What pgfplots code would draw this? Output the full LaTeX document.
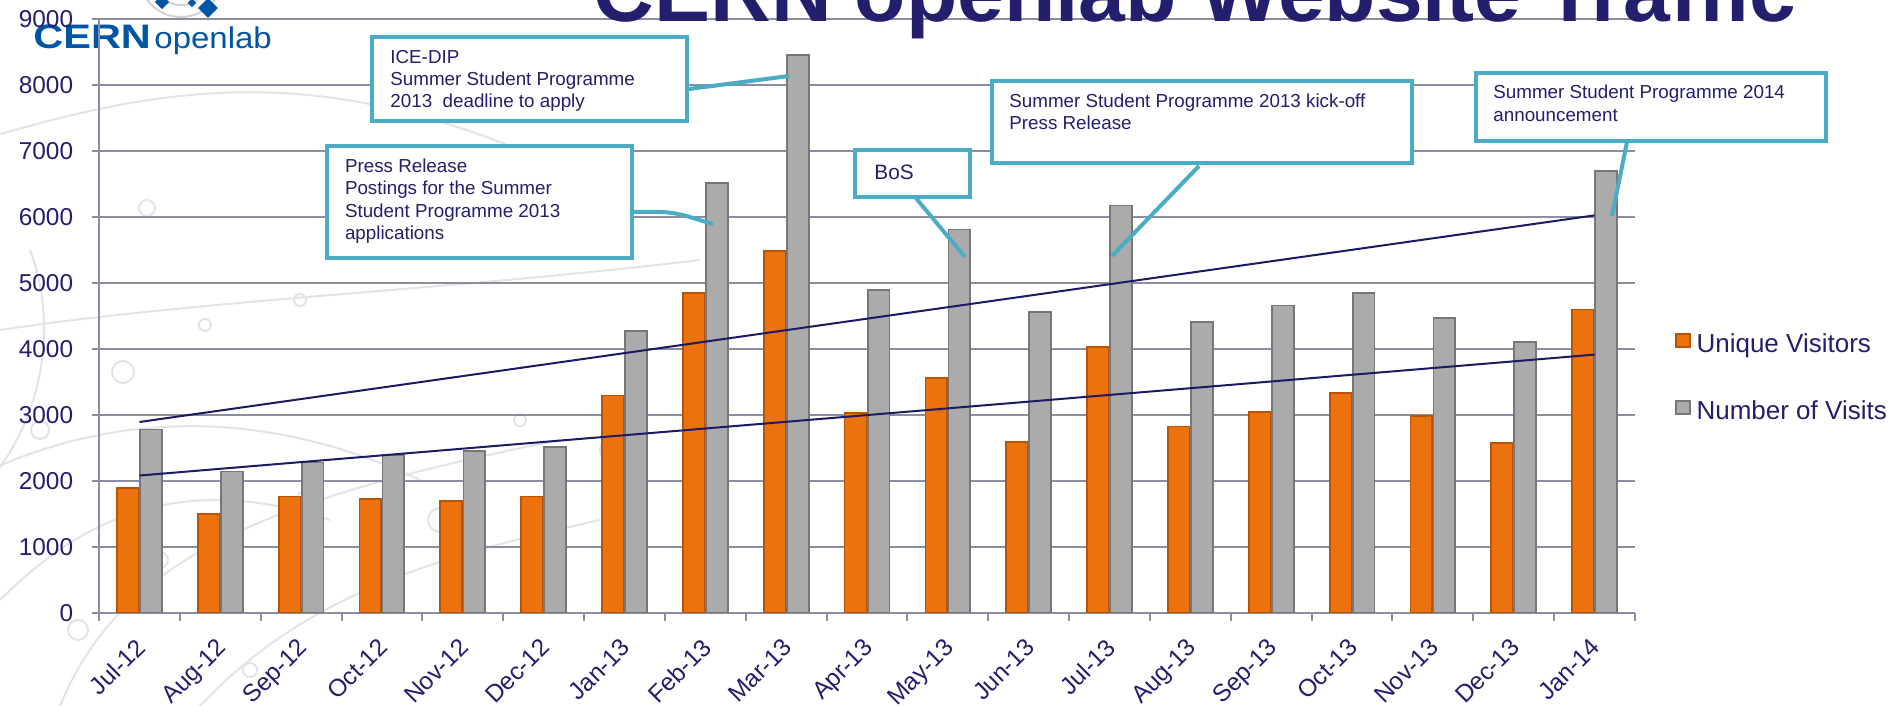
\documentclass[border=0pt]{standalone}
\usepackage{fontspec}
\setmainfont{Liberation Sans}
\usepackage{graphicx}
\usepackage{pgfplots}
\pgfplotsset{compat=1.18}
\definecolor{navy}{RGB}{35,31,108}
\definecolor{gridc}{RGB}{140,140,162}
\definecolor{teal2}{HTML}{4BACC6}
\definecolor{trend}{RGB}{28,26,98}
\definecolor{orM}{HTML}{EC720E}
\definecolor{orD}{HTML}{B85404}
\definecolor{grM}{HTML}{ABABAB}
\definecolor{grD}{HTML}{777777}
\definecolor{logob}{HTML}{0055A4}
\definecolor{deco}{RGB}{228,228,232}
\newcommand\cl[3]{\node[anchor=base west, inner sep=0pt, text=navy, font=\fontsize{9.4}{11}\selectfont] at (#1,#2) {#3};}
\begin{document}
\begin{tikzpicture}
\useasboundingbox (0,0) rectangle (947.5pt,353pt);
\clip (0,0) rectangle (947.5pt,353pt);
\fill[white] (0,0) rectangle (947.5pt,353pt);
\begin{scope}[x=0.5pt,y=-0.5pt,yshift=353pt]
  % faint background decoration
  \begin{scope}[draw=deco, line width=1pt]
    \draw (-20,140) .. controls (150,90) and (300,60) .. (520,150);
    \draw (0,330) .. controls (200,300) and (450,290) .. (700,260);
    \draw (-10,470) .. controls (100,420) and (250,400) .. (420,480);
    \draw (60,706) .. controls (120,560) and (260,500) .. (560,440);
    \draw (0,600) .. controls (80,520) and (180,470) .. (330,520);
    \draw (30,250) .. controls (60,330) and (40,420) .. (-10,480);
    \draw (200,706) .. controls (300,600) and (420,560) .. (600,520);
    \foreach \p/\r in {(147,208)/8, (400,160)/10, (205,325)/6, (123,372)/11, (40,430)/9, (305,498)/7, (440,520)/12, (160,560)/8, (610,450)/10, (520,420)/6, (78,630)/10, (250,670)/7, (300,300)/6, (560,200)/7}
      \draw \p circle (\r);
  \end{scope}
  % logo
  \draw[gray!35, line width=1pt] (181,-25) circle (42);
  \draw[gray!35, line width=1pt] (181,-25) circle (30);
  \fill[logob, rotate around={45:(208,8)}] (201,1) rectangle (215,15);
  \fill[logob, rotate around={45:(162,2)}] (157,-3) rectangle (167,7);
  \fill[logob, rotate around={45:(192,3)}] (189,0) rectangle (195,6);
  \node[anchor=base west, inner sep=0pt, text=logob] at (33,48.3) {\scalebox{1.22}[1]{\fontsize{17}{18}\selectfont\bfseries CERN}};
  \node[anchor=base west, inner sep=0pt, text=logob] at (154,48.3) {\scalebox{1.1}[1]{\fontsize{15}{18}\selectfont openlab}};
\end{scope}
\begin{axis}[
  at={(49.5pt,46.5pt)}, anchor=south west,
  scale only axis, width=768pt, height=297pt,
  xmin=-0.5, xmax=18.5, ymin=0, ymax=9000,
  axis lines=left, axis line style={-, draw=gridc, line width=1pt},
  ymajorgrids, grid style={draw=gridc, line width=1pt},
  ytick={0,1000,...,9000},
  xtick={0,...,18},
  xticklabels={Jul-12,Aug-12,Sep-12,Oct-12,Nov-12,Dec-12,Jan-13,Feb-13,Mar-13,Apr-13,May-13,Jun-13,Jul-13,Aug-13,Sep-13,Oct-13,Nov-13,Dec-13,Jan-14},
  minor xtick={-0.5,0.5,...,18.5},
  tick align=outside,
  major x tick style={draw=none},
  minor x tick style={draw=gridc, line width=1pt},
  major y tick style={draw=gridc, line width=1pt},
  major tick length=3.75pt, minor tick length=4pt,
  tick label style={text=navy, font=\fontsize{12.2}{14}\selectfont},
  yticklabel style={anchor=east, inner sep=0pt, xshift=-9pt},
  xticklabel style={rotate=45, anchor=north east, inner sep=0pt, xshift=-7.4pt, yshift=-3.9pt},
  /pgf/number format/assume math mode=true,
  /pgf/number format/set thousands separator={},
  legend style={draw=none, fill=none, at={(1.026,0.3948)}, anchor=west, inner sep=0pt,
    row sep=21.5pt, font=\fontsize{13}{15}\selectfont, text=navy,
    nodes={inner sep=0pt, text height=0.72em, text depth=0.22em},
    /tikz/column sep=3pt},
  legend cell align=left,
  legend image code/.code={\path[#1] (0.4pt,0.1pt) rectangle (7.1pt,6.8pt);},
]
\addplot[ybar, bar width=0.27, bar shift=-0.1425, fill=orM, draw=orD, line width=0.9pt]
 coordinates {(0,1890) (1,1500) (2,1765) (3,1725) (4,1700) (5,1765) (6,3297) (7,4845) (8,5480) (9,3030) (10,3565) (11,2595) (12,4030) (13,2827) (14,3040) (15,3335) (16,2980) (17,2575) (18,4600)};
\addlegendentry{Unique Visitors}
\addplot[ybar, bar width=0.27, bar shift=0.1425, fill=grM, draw=grD, line width=0.9pt]
 coordinates {(0,2780) (1,2145) (2,2280) (3,2390) (4,2450) (5,2510) (6,4270) (7,6510) (8,8455) (9,4890) (10,5810) (11,4555) (12,6175) (13,4415) (14,4660) (15,4850) (16,4465) (17,4110) (18,6700)};
\addlegendentry{Number of Visits}
\addplot[trend, line width=1pt, forget plot] coordinates {(0,2894) (18,6025)};
\addplot[trend, line width=1pt, forget plot] coordinates {(0,2083) (18,3915)};
\end{axis}
\begin{scope}[x=0.5pt,y=-0.5pt,yshift=353pt]
  \node[anchor=base, inner sep=0pt, text=navy, font=\fontsize{42}{50}\selectfont\bfseries] at (1195,22) {CERN openlab Website Traffic};
  \begin{scope}[draw=teal2, line width=2.25pt]
    % connectors
    \draw[line width=2pt] (689,89) -- (789,76);
    \draw[line width=2pt] (634,212) -- (658,212) to[out=0,in=165] (713,224);
    \draw[line width=2pt] (915,197) -- (965,257);
    \draw[line width=2pt] (1199,166) -- (1112,256);
    \draw[line width=2pt] (1627,142) -- (1612,216);
    % boxes
    \filldraw[fill=white] (372,37) rectangle (687,121);
    \filldraw[fill=white] (327,146) rectangle (632,258);
    \filldraw[fill=white] (855,150) rectangle (970,197);
    \filldraw[fill=white] (992,81) rectangle (1412,163);
    \filldraw[fill=white] (1476,73) rectangle (1826,141);
  \end{scope}
  \cl{390}{64}{ICE-DIP}
  \cl{390}{86}{Summer Student Programme}
  \cl{390}{108}{2013\ \ deadline to apply}
  \cl{344.6}{172.7}{Press Release}
  \cl{344.6}{195}{Postings for the Summer}
  \cl{344.6}{217.5}{Student Programme 2013}
  \cl{344.6}{240}{applications}
  \node[anchor=base west, inner sep=0pt, text=navy, font=\fontsize{10.4}{12}\selectfont] at (874,180) {BoS};
  \cl{1009}{108}{Summer Student Programme 2013 kick-off}
  \cl{1009}{130}{Press Release}
  \cl{1493}{99}{Summer Student Programme 2014}
  \cl{1493}{122}{announcement}
\end{scope}
\end{tikzpicture}
\end{document}
